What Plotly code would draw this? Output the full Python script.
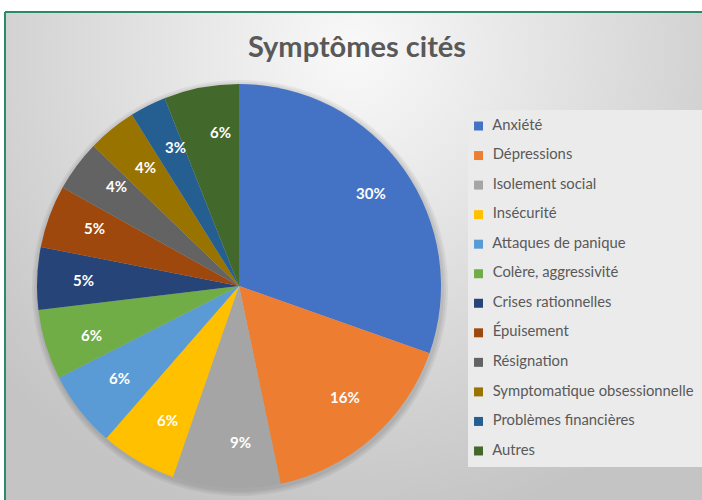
"""
Pie chart "Symptômes cités" rebuilt with Plotly, Excel-like styling.
"""
import base64
import math
import plotly.graph_objects as go

# Data
LABELS = [
    "Anxiété", "Dépressions", "Isolement social", "Insécurité",
    "Attaques de panique", "Colère, aggressivité", "Crises rationnelles",
    "Épuisement", "Résignation", "Symptomatique obsessionnelle",
    "Problèmes financières", "Autres",
]
VALUES = [30.4, 16.3, 8.6, 6.1, 6.1, 5.6, 5.0, 5.0, 4.1, 3.9, 2.9, 6.0]

SLICE_COLORS = [
    "#4472C4", "#ED7D31", "#A5A5A5", "#FFC000", "#5B9BD5", "#70AD47",
    "#264478", "#9E480E", "#636363", "#997300", "#255E91", "#43682B",
]

FONT = "Lato, 'Noto Sans', sans-serif"
TEXT_GREY = "#595959"
BORDER = "#2a8a6c"

W, H = 702, 500
ML, MT = 5, 12
PW, PH = W - ML, H - MT

# pie geometry in page pixels
CX, CY, R = 239, 286, 202


def px_x(x):
    return (x - ML) / PW


def px_y(y):
    return (H - y) / PH


# Excel-like radial background
svg = (
    f'<svg xmlns="http://www.w3.org/2000/svg" width="{PW}" height="{PH}" viewBox="0 0 {PW} {PH}">'
    '<defs><radialGradient id="g" gradientUnits="userSpaceOnUse" cx="350" cy="40" r="480">'
    '<stop offset="0" stop-color="#f9f9f9"/><stop offset="1" stop-color="#c4c4c4"/>'
    '</radialGradient></defs>'
    f'<rect width="{PW}" height="{PH}" fill="url(#g)"/></svg>'
)
bg_uri = "data:image/svg+xml;base64," + base64.b64encode(svg.encode()).decode()

fig = go.Figure()

fig.add_trace(go.Pie(
    labels=LABELS,
    values=VALUES,
    sort=False,
    direction="clockwise",
    rotation=0,
    marker=dict(colors=SLICE_COLORS, line=dict(width=0)),
    textinfo="none",
    domain=dict(x=[px_x(CX - R), px_x(CX + R)], y=[px_y(CY + R), px_y(CY - R)]),
    showlegend=False,
    hoverinfo="label+percent",
))

# percentage labels, placed along each slice's mid angle like Excel does
total = sum(VALUES)
annotations = []
cum = 0
for v in VALUES:
    mid = (cum + v / 2) / total * 2 * math.pi
    cum += v
    rr = R * (0.8 if v / total > 0.1 else 0.83)
    annotations.append(dict(
        x=px_x(CX + rr * math.sin(mid)), y=px_y(CY - rr * math.cos(mid)),
        xref="paper", yref="paper", showarrow=False,
        text=f"<b>{round(v / total * 100)}%</b>",
        font=dict(family=FONT, size=15, color="white"),
    ))

# Custom legend drawn as a marker trace on hidden axes
fig.add_trace(go.Scatter(
    x=[0.045] * len(LABELS),
    y=list(range(len(LABELS))),
    mode="markers+text",
    marker=dict(symbol="square", size=9, color=SLICE_COLORS),
    text=LABELS,
    texttemplate="\u00a0\u00a0%{text}",
    textposition="middle right",
    textfont=dict(family=FONT, size=14.8, color=TEXT_GREY),
    cliponaxis=False,
    showlegend=False,
    hoverinfo="skip",
))

# soft shadow around the pie
shadow = [
    dict(type="circle", xref="paper", yref="paper",
         x0=px_x(CX - R - d + 1), x1=px_x(CX + R + d + 1),
         y0=px_y(CY + R + d + 2), y1=px_y(CY - R - d + 2),
         fillcolor="rgba(0,0,0,0.05)", line=dict(width=0), layer="below")
    for d in (6, 4, 2)
]

fig.update_layout(
    width=W,
    height=H,
    margin=dict(l=ML, r=0, t=MT, b=0, pad=0),
    paper_bgcolor="white",
    plot_bgcolor="rgba(0,0,0,0)",
    font=dict(family=FONT, color=TEXT_GREY),
    xaxis=dict(domain=[px_x(468), 1], range=[0, 1], visible=False, fixedrange=True),
    yaxis=dict(domain=[px_y(465.75), px_y(111.25)], range=[11.5, -0.5],
               visible=False, fixedrange=True),
    images=[dict(
        source=bg_uri, xref="paper", yref="paper", x=0, y=1,
        sizex=1, sizey=1, xanchor="left", yanchor="top",
        sizing="stretch", layer="below",
    )],
    shapes=shadow + [
        # legend box
        dict(type="rect", xref="paper", yref="paper",
             x0=px_x(468), x1=1, y0=px_y(467), y1=px_y(110),
             fillcolor="#ebebeb", line=dict(width=0), layer="below"),
        # green frame
        dict(type="line", xref="paper", yref="paper", x0=0, x1=1.01, y0=1, y1=1,
             line=dict(color=BORDER, width=2)),
        dict(type="line", xref="paper", yref="paper", x0=0, x1=0, y0=-0.01, y1=1,
             line=dict(color=BORDER, width=2)),
    ],
    annotations=annotations,
    title=dict(
        text="<b>Symptômes cités</b>",
        x=357 / W, xanchor="center",
        y=(H - 47) / H, yanchor="middle",
        font=dict(family=FONT, size=29, color=TEXT_GREY),
    ),
)

# page body margin off so the figure sits flush in the window
fig.write_html(
    "out.html",
    config={"displayModeBar": False},
    post_script="document.body.style.margin='0';document.body.style.overflow='hidden';",
)
